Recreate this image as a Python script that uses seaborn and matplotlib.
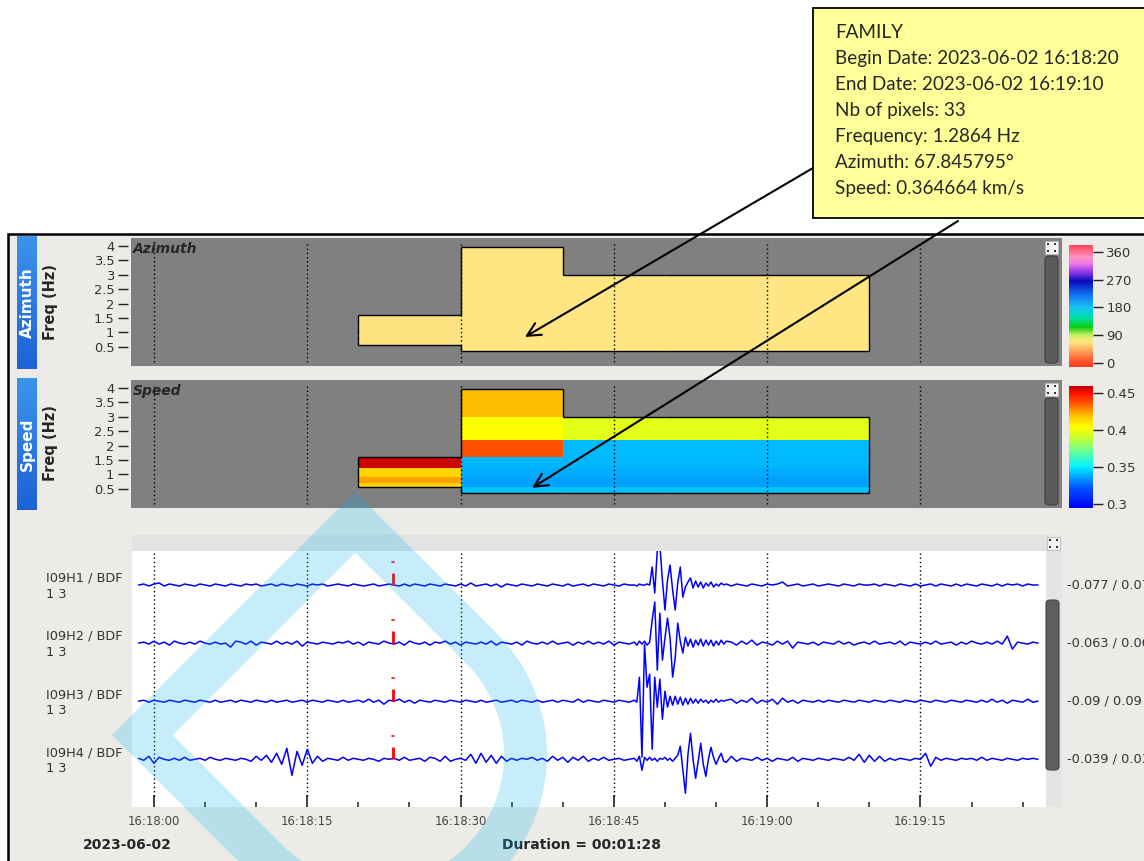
import numpy as np
import matplotlib
matplotlib.use("Agg")
import matplotlib.pyplot as plt
import seaborn as sns
from matplotlib.colors import LinearSegmentedColormap, Normalize
from matplotlib.collections import LineCollection
from matplotlib.patches import Rectangle, FancyBboxPatch, PathPatch
from matplotlib.path import Path
from matplotlib.ticker import FixedLocator, MultipleLocator, FormatStrFormatter
from matplotlib.transforms import blended_transform_factory

sns.set_style("white")
plt.rcParams["font.family"] = ["DejaVu Sans"]

nan = np.nan

# ---------------- data ----------------
family_lines = [
    "FAMILY",
    "Begin Date: 2023-06-02 16:18:20",
    "End Date: 2023-06-02 16:19:10",
    "Nb of pixels: 33",
    "Frequency: 1.2864 Hz",
    "Azimuth: 67.845795°",
    "Speed: 0.364664 km/s",
]

# PMCC pixels: time bins (s after 16:18:00) x frequency bins (Hz), rows low -> high freq
time_edges = [20, 30, 40, 50, 60, 70]
freq_edges = [0.35, 0.55, 0.7, 0.9, 1.22, 1.6, 2.2, 3.0, 3.95]
azimuth_cells = [
    [nan, 67, 68, 68, 68],
    [66, 67, 68, 68, 68],
    [66, 67, 68, 68, 68],
    [66, 67, 68, 68, 68],
    [66, 67, 68, 68, 68],
    [nan, 67, 68, 68, 68],
    [nan, 67, 68, 68, 68],
    [nan, 67, nan, nan, nan],
]
speed_cells = [
    [nan, 0.342, 0.342, 0.342, 0.342],
    [0.415, 0.336, 0.336, 0.336, 0.336],
    [0.425, 0.336, 0.336, 0.336, 0.336],
    [0.415, 0.338, 0.338, 0.338, 0.338],
    [0.458, 0.340, 0.340, 0.340, 0.340],
    [nan, 0.438, 0.341, 0.341, 0.341],
    [nan, 0.405, 0.397, 0.397, 0.397],
    [nan, 0.420, nan, nan, nan],
]

freq_ticks = [0.5, 1, 1.5, 2, 2.5, 3, 3.5, 4]
az_ticks = [0, 90, 180, 270, 360]
speed_ticks = [0.3, 0.35, 0.4, 0.45]

tick_seconds = [0, 15, 30, 45, 60, 75]
tick_labels = ["16:18:00", "16:18:15", "16:18:30", "16:18:45", "16:19:00", "16:19:15"]
date_label = "2023-06-02"
duration_label = "Duration = 00:01:28"

stations = ["I09H1 / BDF", "I09H2 / BDF", "I09H3 / BDF", "I09H4 / BDF"]
channel = "1 3"
amp_ranges = ["-0.077 / 0.077", "-0.063 / 0.063", "-0.09 / 0.09", "-0.039 / 0.039"]
pick_time = 23.4

# sample times (s after 16:18:00): coarse noise, finer around the arrival
t_pre = np.arange(-1.5, 46.6, 0.5)
t_evt = np.arange(47.0, 56.01, 0.25)
t_post = np.arange(56.5, 86.6, 0.5)
times = np.concatenate([t_pre, t_evt, t_post])

# normalised amplitudes (counts)
trace_h1 = [
    0, 1, -1, 1, 2, -1, 1, 0, -1, 1, 0, -1, 1, 0, -1, 1, 0, -1, 1, 0,
    -1, 1, 0, 1, -1, 0, 1, -1, 1, 0, -1, 1, 0, -1, 1, 0, 1, -1, 0, 1,
    0, -1, 1, 0, -1, 0, 1, -1, 0, 1, 0, -1, 1, -1, 1, 0, -1, 1, 0, -1,
    1, 0, -1, 1, -1, 2, -1, 0, 1, -1, 1, -2, 1, 0, -1, 1, 0, -1, 1, 0,
    -1, 1, 0, -1, 1, -1, 0, 1, -1, 1, 0, -1, 1, 0, -1, 1, 0,
    0, -1, 1, 0, 0, 1, 0, 18, -8, 35, 40, 5, -25, 5, 20, -5, -25, 2, 18, -12,
    -2, 3, 7, -3, 4, -2, 3, -3, 2, -1, 3, -2, 1, -1, 2, 0, 1,
    -1, 1, 0, -1, 1, 0, -1, 1, 0, 1, 3, -1, 0, 1, -1, 0, 1, -1, 0, 1,
    0, -1, 1, 0, -1, 1, 0, 0, 1, -1, 1, 0, -1, 1, 0, -1, 1, -1, 0, 1,
    -1, 1, 0, -1, 1, -1, 1, 0, -1, 1, 0, -1, 1, -1, 1, 0, 1, -1, 1, 0, 0,
]
trace_h2 = [
    0, 1, -1, 2, -1, 1, -2, 2, 0, -1, 1, -1, 2, 0, -1, 1, -1, 0, -4, 2,
    1, -1, 2, -2, 1, 0, -1, 2, -1, 1, -1, 2, -3, 1, 0, -1, 1, 0, -1, 1,
    0, 2, -1, 1, -2, 1, 0, -1, 2, 0, -1, 1, -2, 2, 0, -1, 1, -2, 1, 0,
    2, -1, 1, -2, 1, 0, -1, 1, -1, 2, -2, 1, 0, -1, 1, -2, 2, 0, -1, 1,
    -1, 2, -1, 0, 1, -2, 1, -1, 2, -1, 1, -1, 2, -2, 1, 0, -1,
    1, -2, 2, -1, 2, -2, 1, 23, 41, -27, 30, -17, 5, 25, 5, -34, -15, 20, 2, -10,
    6, -3, 4, -4, 3, -2, 4, -3, 3, -2, 3, -3, 2, -2, 3, -1, 2,
    1, -2, 2, -1, 3, -2, 1, 0, -2, 2, -1, 2, -5, 1, 0, -1, 1, -2, 1, 0,
    -1, 2, -1, 1, -2, 0, 1, -1, 2, -1, 0, 1, -1, 2, -2, 1, 0, -1, 1, -1,
    2, -1, 0, 1, -2, 1, -1, 2, 0, -1, 1, -1, 2, -1, 7, -6, 1, 0, -1, 1, 0,
]
trace_h3 = [
    0, 1, -1, 1, 0, -1, 1, 0, -1, 1, 0, -1, 1, 0, -1, 1, -1, 0, 1, -1,
    1, 0, -1, 1, 0, -1, 1, -1, 0, 1, -1, 0, 1, -1, 1, 0, -1, 1, 0, -1,
    1, -1, 0, 1, -1, 2, -1, 1, -3, 1, 0, 2, -1, 1, -2, 1, 0, -1, 1, 0,
    -1, 1, 0, -1, 1, 0, -1, 1, -1, 0, 1, -1, 0, 1, -1, 1, 0, -1, 1, -1,
    0, 1, -1, 1, 0, -1, 2, -1, 1, 0, -1, 1, 0, -1, 1, 0, -1,
    1, -1, 24, -56, 57, 14, 27, -48, 24, -6, 22, -18, 10, -6, 5, -4, 5, -3, 4, -4,
    3, -3, 3, -2, 2, -2, 2, -1, 1, -2, 1, -1, 2, -1, 1, 0, 1,
    2, -2, 1, -1, 3, -2, 1, -1, 2, -3, 3, -1, 1, -2, 1, 0, -1, 1, -1, 1,
    0, -1, 1, 0, -1, 1, 0, -1, 1, 0, -1, 1, 0, -1, 1, 0, -1, 1, 0, -1,
    1, 0, -1, 1, 0, -1, 1, 0, -1, 1, -1, 2, -1, 1, -2, 1, 0, -1, 2, -1, 0,
]
trace_h4 = [
    1, -1, 3, -4, 2, 0, -1, 1, -1, 2, -1, 0, 1, -1, 2, 0, -1, 1, 0, -1,
    1, 0, -2, 3, -1, 4, -3, 6, -5, 11, -16, 8, -6, 10, -4, 3, -2, 1, 0, -1,
    2, -1, 1, 0, -1, 1, 0, -2, 1, 0, 1, -1, 2, -1, 0, 1, -2, 2, 1, -2,
    3, -2, 0, 1, -1, 5, -4, 6, -3, 4, -4, 3, -2, 1, -1, 1, 0, 2, -1, 1,
    -2, 3, -1, 2, -3, 2, -1, 3, -2, 1, -1, 2, -1, 0, 1, -1, 0,
    1, -2, 3, -11, 2, -1, 2, -1, 1, -2, 1, 0, 2, -1, 1, -2, 1, 4, 13, -10,
    -34, 5, 26, 0, -19, -2, 16, -5, -17, 0, 12, 2, -5, 1, 6, -2, -3,
    3, -2, 1, 0, -1, 2, -1, 1, -2, 1, 0, -1, 2, -2, 1, 0, -1, 1, 0, -1,
    1, 0, -1, 2, -1, 5, -3, 4, -2, 3, -2, 1, -1, 1, 0, -1, 1, 0, 6, -7,
    2, -1, 1, 0, -1, 1, 0, 1, -1, 2, -1, 1, 0, -1, 1, 0, -1, 1, 0, 1, 0,
]
traces = [trace_h1, trace_h2, trace_h3, trace_h4]

# ---------------- layout helpers ----------------
W, H = 1144, 861
fig = plt.figure(figsize=(W / 100, H / 100), dpi=100)
fig.patch.set_facecolor("white")


def fx(x):
    return x / W


def fy(y):
    return 1 - y / H


def box(x0, y0, x1, y1):
    return [fx(x0), fy(y1), (x1 - x0) / W, (y1 - y0) / H]


def fig_rect(x0, y0, x1, y1, z=3, rounded=False, **kw):
    if rounded:
        p = FancyBboxPatch((fx(x0), fy(y1)), fx(x1) - fx(x0), fy(y0) - fy(y1),
                           boxstyle="round,pad=0,rounding_size=0.004",
                           transform=fig.transFigure, zorder=z, **kw)
    else:
        p = Rectangle((fx(x0), fy(y1)), fx(x1) - fx(x0), fy(y0) - fy(y1),
                      transform=fig.transFigure, zorder=z, **kw)
    fig.add_artist(p)


def expand_icon(x0, y0):
    fig_rect(x0, y0, x0 + 13, y0 + 13, z=4, facecolor="#F4F4F4", edgecolor="#BBBBBB", lw=0.6)
    for dx, dy in [(2, 2), (9, 2), (2, 9), (9, 9)]:
        fig_rect(x0 + dx, y0 + dy, x0 + dx + 2.2, y0 + dy + 2.2, z=5, facecolor="#333333", lw=0)


# window background
fig.add_artist(Rectangle((fx(8), fy(900)), 1.2, fy(234) - fy(900), transform=fig.transFigure,
                         facecolor="#EDEBE7", edgecolor="black", lw=1.8, zorder=-1))

xlim = (-2.25, 88.85)

az_cmap = LinearSegmentedColormap.from_list("az", [
    (0.0, "#FF3A1E"), (14 / 397, "#FF4A2A"), (44 / 397, "#FF9050"), (70 / 397, "#FFCC72"),
    (81 / 397, "#FFE682"), (104 / 397, "#C8F060"), (128 / 397, "#10CC10"),
    (160 / 397, "#00DDA8"), (194 / 397, "#18C4F4"), (236 / 397, "#1070F0"),
    (280 / 397, "#0A0AB8"), (312 / 397, "#9A3CEA"), (336 / 397, "#E878E8"),
    (358 / 397, "#FF92C4"), (1.0, "#FF4456")])
az_norm = Normalize(-14, 383)

sp_cmap = LinearSegmentedColormap.from_list("sp", [
    (0.0, "#0000F0"), (0.16, "#0050FF"), (0.25, "#00A0FF"), (0.335, "#00F0FF"),
    (0.455, "#60FFA0"), (0.575, "#C8FF30"), (0.665, "#FFFF00"), (0.76, "#FFC000"),
    (0.85, "#FF6000"), (0.94, "#FF1000"), (1.0, "#C00000")])
sp_norm = Normalize(0.2946, 0.46)


def outline(ax, cells):
    ok = ~np.isnan(cells)
    nf, nt = ok.shape
    segs = []
    for i in range(nf):
        for j in range(nt):
            if not ok[i, j]:
                continue
            t0, t1 = time_edges[j], time_edges[j + 1]
            f0, f1 = freq_edges[i], freq_edges[i + 1]
            if i == 0 or not ok[i - 1, j]:
                segs.append([(t0, f0), (t1, f0)])
            if i == nf - 1 or not ok[i + 1, j]:
                segs.append([(t0, f1), (t1, f1)])
            if j == 0 or not ok[i, j - 1]:
                segs.append([(t0, f0), (t0, f1)])
            if j == nt - 1 or not ok[i, j + 1]:
                segs.append([(t1, f0), (t1, f1)])
    ax.add_collection(LineCollection(segs, colors="black", linewidths=1.0, zorder=3))


def pmcc_panel(rect, cells, cmap, norm, title):
    ax = fig.add_axes(box(*rect))
    ax.set_facecolor("#808080")
    cells = np.array(cells, dtype=float)
    mesh = ax.pcolormesh(time_edges, freq_edges, np.ma.masked_invalid(cells),
                         cmap=cmap, norm=norm, shading="flat", zorder=2, linewidth=0)
    outline(ax, cells)
    for s in tick_seconds:
        ax.axvline(s, ymin=0.03, ymax=0.97, color="black", lw=1.0, ls=(0, (1, 2)), zorder=4)
    ax.set_xlim(*xlim)
    ax.set_ylim(-0.17, 4.28)
    ax.set_xticks([])
    ax.yaxis.set_major_locator(FixedLocator(freq_ticks))
    ax.yaxis.set_major_formatter(FormatStrFormatter("%g"))
    for sp in ax.spines.values():
        sp.set_visible(False)
    ax.spines["left"].set_position(("outward", 2.2))
    ax.tick_params(axis="y", left=True, direction="out", length=7.2, width=1.0, color="#222222",
                   labelsize=9.4, labelcolor="#333333", pad=2.6)
    ax.text(0.002, 0.965, title, transform=ax.transAxes, fontsize=10, weight="bold",
            style="italic", ha="left", va="top", zorder=6)
    return ax, mesh


def badge(rect, label, yc):
    bx = fig.add_axes(box(*rect))
    grad = np.linspace(0, 1, 64).reshape(-1, 1)
    bx.imshow(grad, aspect="auto", cmap=LinearSegmentedColormap.from_list("b", ["#3C94EA", "#1D62D8"]))
    bx.set_axis_off()
    bx.text(0.5, 0.5, label, rotation=90, color="white", weight="bold", fontsize=11,
            ha="center", va="center", transform=bx.transAxes)
    fig.text(fx(50), fy(yc), "Freq (Hz)", rotation=90, weight="bold", fontsize=10.5,
             ha="center", va="center")


def colorbar(rect, mesh, ticks):
    cax = fig.add_axes(box(*rect))
    cb = fig.colorbar(mesh, cax=cax, ticks=ticks)
    cb.outline.set_visible(False)
    cax.tick_params(length=7.2, width=1.0, color="#222222", labelsize=9.5,
                    labelcolor="#333333", pad=2.5)
    cax.yaxis.set_major_formatter(FormatStrFormatter("%g"))
    return cb


# ---------------- azimuth / speed panels ----------------
ax_az, mesh_az = pmcc_panel((131, 238, 1062, 366), azimuth_cells, az_cmap, az_norm, "Azimuth")
ax_sp, mesh_sp = pmcc_panel((131, 380, 1062, 508), speed_cells, sp_cmap, sp_norm, "Speed")
badge((17, 236, 37, 369), "Azimuth", 302)
badge((17, 378, 37, 510), "Speed", 443)
colorbar((1069, 245, 1093, 367), mesh_az, az_ticks)
colorbar((1069, 386, 1093, 508), mesh_sp, speed_ticks)

for y0 in (241, 383):
    expand_icon(1045, y0)
    fig_rect(1045, y0 + 15, 1058, y0 + 122, z=4, rounded=True,
             facecolor="#5B5B5B", edgecolor="#3E3E3E", lw=0.8)

# ---------------- waveforms ----------------
ax_wf = fig.add_axes(box(132, 535, 1062, 807))
ax_wf.set_facecolor("white")
lane = 58.1  # counts per lane
for k, amp in enumerate(traces):
    y = -k + np.asarray(amp, dtype=float) / lane
    sns.lineplot(x=times, y=y, ax=ax_wf, color="#0000FF", lw=1.1,
                 estimator=None, sort=False, zorder=3)
    ax_wf.vlines(pick_time, -k, -k + 12 / lane, color="red", lw=2.0, zorder=4)
    ax_wf.plot([pick_time - 0.12, pick_time + 0.12], [-k + 23 / lane] * 2,
               color="red", lw=1.2, zorder=4)

for s in tick_seconds:
    ax_wf.axvline(s, ymin=0.04, ymax=0.94, color="black", lw=1.0, ls=(0, (1, 2)), zorder=2)
ax_wf.axhspan(34 / lane, 0.861, color="#E3E3E3", lw=0, zorder=5)
ax_wf.set_xlim(-2.15, 88.85)
ax_wf.set_ylim(-3.821, 0.861)
ax_wf.set_yticks([])
ax_wf.xaxis.set_major_locator(FixedLocator(tick_seconds))
ax_wf.set_xticklabels(tick_labels)
ax_wf.xaxis.set_minor_locator(MultipleLocator(5))
ax_wf.tick_params(axis="x", which="major", bottom=True, direction="in", length=8.6, width=1.3,
                  color="#333333", labelsize=8.4, labelcolor="#444444", pad=6)
ax_wf.tick_params(axis="x", which="minor", bottom=True, direction="in", length=3.6, width=1.2,
                  color="#333333")
for sp in ax_wf.spines.values():
    sp.set_visible(False)

trans = blended_transform_factory(fig.transFigure, ax_wf.transData)
for k, name in enumerate(stations):
    ax_wf.text(fx(46), -k + 6.7 / lane, name, transform=trans, fontsize=9.3, color="#333333",
               ha="left", va="center")
    ax_wf.text(fx(46), -k - 9.3 / lane, channel, transform=trans, fontsize=9.3, color="#333333",
               ha="left", va="center")
    ax_wf.text(fx(1067), -k, amp_ranges[k], transform=trans, fontsize=9.3, color="#333333",
               ha="left", va="center")

fig_rect(1046, 535, 1062, 807, z=4, facecolor="#E4E4E4", lw=0)
fig_rect(1046, 600, 1059, 770, z=5, rounded=True, facecolor="#5E5E5E", edgecolor="#444444", lw=0.8)
expand_icon(1047, 537)

fig.text(fx(127), fy(845), date_label, weight="bold", fontsize=10, ha="center", va="center")
fig.text(fx(582), fy(845), duration_label, weight="bold", fontsize=10, ha="center", va="center")

# ---------------- family annotation ----------------
fig_rect(813, 8, 1150, 218, z=8, facecolor="#FFFF99", edgecolor="black", lw=1.3)
for k, line in enumerate(family_lines):
    fig.text(fx(835), fy(33 + 25.9 * k), line, family=["Lato", "DejaVu Sans"], fontsize=13.6,
             ha="left", va="center", zorder=9)

ax_az.annotate("", xy=(36.3, 0.84), xycoords="data", xytext=(fx(813), fy(168)),
               textcoords="figure fraction", annotation_clip=False,
               arrowprops=dict(arrowstyle="->", lw=1.5, color="black", mutation_scale=24,
                               shrinkA=0, shrinkB=0), zorder=10)
ax_sp.annotate("", xy=(37.0, 0.53), xycoords="data", xytext=(fx(958), fy(221)),
               textcoords="figure fraction", annotation_clip=False,
               arrowprops=dict(arrowstyle="->", lw=1.5, color="black", mutation_scale=24,
                               shrinkA=0, shrinkB=0), zorder=10)


# ---------------- watermark ----------------
def watermark():
    corner = np.array([112.0, 735.0])
    eu = np.array([0.7071, -0.7071])
    ev = np.array([0.7071, 0.7071])
    width, c, w = 344.0, 200.0, 43.0

    def ring(u0, u1, v0, r):
        ang = np.linspace(0, np.pi, 80)
        arc = [(width / 2 + r * np.cos(a), c + r * np.sin(a)) for a in ang]
        return [(u0, v0), (u1, v0)] + arc + [(u0, v0)]

    outer = ring(0, width, 0, width / 2)
    inner = ring(w, width - w, w, width / 2 - w)[::-1]
    verts, codes = [], []
    for poly in (outer, inner):
        for n, (u, v) in enumerate(poly):
            p = corner + u * eu + v * ev
            verts.append((fx(p[0]), fy(p[1])))
            codes.append(Path.MOVETO if n == 0 else Path.LINETO)
        codes[-1] = Path.CLOSEPOLY
    fig.add_artist(PathPatch(Path(verts, codes), facecolor="#00B0F0", alpha=0.22, lw=0,
                             transform=fig.transFigure, zorder=20))


watermark()

fig.savefig("out.png", dpi=100)
